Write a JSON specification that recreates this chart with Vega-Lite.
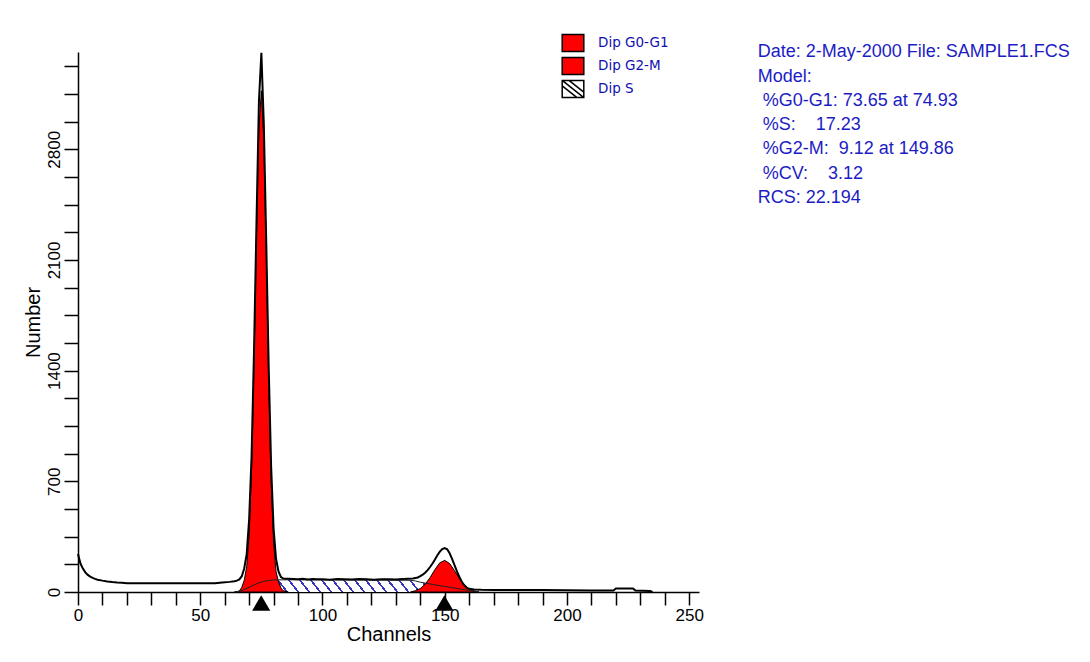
{
  "$schema": "https://vega.github.io/schema/vega-lite/v6.json",
  "width": 621,
  "height": 540,
  "autosize": {"type": "none"},
  "padding": {"left": 78, "top": 52, "right": 391, "bottom": 70},
  "background": "white",
  "config": {
    "view": {"stroke": null},
    "font": "Liberation Sans",
    "axis": {"grid": false, "domainColor": "black", "domainWidth": 1.5, "tickColor": "black", "tickWidth": 1.5, "labelColor": "black", "titleColor": "black", "labelFont": "Liberation Sans", "titleFont": "Liberation Sans", "titleFontWeight": "normal", "zindex": 1, "labelOverlap": false, "labelFlush": false}
  },
  "resolve": {"axis": {"x": "independent", "y": "independent"}},
  "datasets": {
    "hist": [
      {"ch": 0, "n": 240}, {"ch": 1, "n": 180}, {"ch": 2, "n": 148}, {"ch": 3, "n": 124}, {"ch": 4, "n": 108}, {"ch": 5, "n": 97}, {"ch": 6, "n": 89}, {"ch": 7, "n": 83}, {"ch": 8, "n": 78}, {"ch": 10, "n": 72}, {"ch": 12, "n": 67}, {"ch": 14, "n": 63}, {"ch": 16, "n": 60}, {"ch": 18, "n": 58}, {"ch": 20, "n": 56}, {"ch": 22, "n": 55}, {"ch": 30, "n": 55}, {"ch": 40, "n": 55}, {"ch": 50, "n": 55}, {"ch": 56, "n": 56}, {"ch": 59, "n": 60}, {"ch": 62, "n": 64}, {"ch": 64, "n": 68}, {"ch": 65, "n": 72}, {"ch": 66, "n": 80}, {"ch": 67, "n": 100}, {"ch": 68, "n": 150}, {"ch": 69, "n": 240}, {"ch": 70, "n": 460}, {"ch": 71, "n": 860}, {"ch": 72, "n": 1530}, {"ch": 73, "n": 2330}, {"ch": 74, "n": 3100}, {"ch": 75, "n": 3410}, {"ch": 76, "n": 2960}, {"ch": 77, "n": 2210}, {"ch": 78, "n": 1420}, {"ch": 79, "n": 790}, {"ch": 80, "n": 400}, {"ch": 81, "n": 210}, {"ch": 82, "n": 130}, {"ch": 83, "n": 95}, {"ch": 84, "n": 85}, {"ch": 86, "n": 84}, {"ch": 88, "n": 82}, {"ch": 90, "n": 80}, {"ch": 92, "n": 83}, {"ch": 94, "n": 79}, {"ch": 96, "n": 82}, {"ch": 98, "n": 80}, {"ch": 100, "n": 81}, {"ch": 103, "n": 78}, {"ch": 106, "n": 82}, {"ch": 109, "n": 80}, {"ch": 112, "n": 79}, {"ch": 115, "n": 82}, {"ch": 118, "n": 80}, {"ch": 121, "n": 78}, {"ch": 124, "n": 81}, {"ch": 127, "n": 80}, {"ch": 130, "n": 79}, {"ch": 133, "n": 82}, {"ch": 135, "n": 84}, {"ch": 137, "n": 86}, {"ch": 139, "n": 92}, {"ch": 140, "n": 100}, {"ch": 141, "n": 110}, {"ch": 142, "n": 122}, {"ch": 143, "n": 138}, {"ch": 144, "n": 158}, {"ch": 145, "n": 180}, {"ch": 146, "n": 205}, {"ch": 147, "n": 232}, {"ch": 148, "n": 255}, {"ch": 149, "n": 272}, {"ch": 150, "n": 278}, {"ch": 151, "n": 270}, {"ch": 152, "n": 245}, {"ch": 153, "n": 210}, {"ch": 154, "n": 170}, {"ch": 155, "n": 130}, {"ch": 156, "n": 95}, {"ch": 157, "n": 65}, {"ch": 158, "n": 42}, {"ch": 159, "n": 28}, {"ch": 160, "n": 20}, {"ch": 162, "n": 16}, {"ch": 165, "n": 14}, {"ch": 170, "n": 13}, {"ch": 180, "n": 12}, {"ch": 190, "n": 12}, {"ch": 200, "n": 11}, {"ch": 210, "n": 10}, {"ch": 219, "n": 10}, {"ch": 220, "n": 22}, {"ch": 227, "n": 22}, {"ch": 228, "n": 9}, {"ch": 234, "n": 6}, {"ch": 235, "n": 0}
    ],
    "g1": [
      {"ch": 64, "n": 0}, {"ch": 66, "n": 6}, {"ch": 67, "n": 30}, {"ch": 68, "n": 75}, {"ch": 69, "n": 160}, {"ch": 70, "n": 360}, {"ch": 71, "n": 780}, {"ch": 72, "n": 1450}, {"ch": 73, "n": 2257}, {"ch": 74, "n": 2929}, {"ch": 75, "n": 3170}, {"ch": 76, "n": 2853}, {"ch": 77, "n": 2143}, {"ch": 78, "n": 1341}, {"ch": 79, "n": 700}, {"ch": 80, "n": 310}, {"ch": 81, "n": 130}, {"ch": 82, "n": 65}, {"ch": 83, "n": 25}, {"ch": 84, "n": 8}, {"ch": 86, "n": 0}
    ],
    "g2": [
      {"ch": 136, "n": 0}, {"ch": 138, "n": 8}, {"ch": 140, "n": 22}, {"ch": 142, "n": 49}, {"ch": 144, "n": 91}, {"ch": 146, "n": 142}, {"ch": 148, "n": 185}, {"ch": 150, "n": 200}, {"ch": 152, "n": 180}, {"ch": 154, "n": 135}, {"ch": 156, "n": 85}, {"ch": 158, "n": 44}, {"ch": 160, "n": 19}, {"ch": 162, "n": 7}, {"ch": 164, "n": 0}
    ],
    "s": [
      {"ch": 64, "n": 0}, {"ch": 66, "n": 5}, {"ch": 68, "n": 15}, {"ch": 70, "n": 30}, {"ch": 72, "n": 45}, {"ch": 74, "n": 58}, {"ch": 76, "n": 67}, {"ch": 78, "n": 73}, {"ch": 80, "n": 76}, {"ch": 84, "n": 77}, {"ch": 100, "n": 76}, {"ch": 120, "n": 75}, {"ch": 136, "n": 74}, {"ch": 138, "n": 70}, {"ch": 140, "n": 62}, {"ch": 145, "n": 48}, {"ch": 150, "n": 35}, {"ch": 155, "n": 22}, {"ch": 160, "n": 10}, {"ch": 164, "n": 0}
    ],
    "peaks": [{"ch": 74.93}, {"ch": 149.86}],
    "info": [
      {"block": "Date: 2-May-2000 File: SAMPLE1.FCS\nModel:\n\u200b\u00a0%G0-G1: 73.65 at 74.93\n\u200b\u00a0%S:\u00a0\u00a0\u00a0 17.23\n\u200b\u00a0%G2-M:\u00a0 9.12 at 149.86\n\u200b\u00a0%CV:\u00a0\u00a0\u00a0 3.12\nRCS: 22.194"}
    ]
  },
  "layer": [
    {
      "data": {"name": "s"},
      "mark": {"type": "area", "interpolate": "linear", "fill": {"gradient": "linear", "x1": 0, "y1": 0, "x2": 1, "y2": -0.04, "stops": [
        {"offset": 0, "color": "#ffffff"}, {"offset": 0.036, "color": "#ffffff"}, {"offset": 0.036, "color": "#3535c0"}, {"offset": 0.045, "color": "#3535c0"},
        {"offset": 0.045, "color": "#ffffff"}, {"offset": 0.081, "color": "#ffffff"}, {"offset": 0.081, "color": "#3535c0"}, {"offset": 0.09, "color": "#3535c0"},
        {"offset": 0.09, "color": "#ffffff"}, {"offset": 0.126, "color": "#ffffff"}, {"offset": 0.126, "color": "#3535c0"}, {"offset": 0.135, "color": "#3535c0"},
        {"offset": 0.135, "color": "#ffffff"}, {"offset": 0.171, "color": "#ffffff"}, {"offset": 0.171, "color": "#3535c0"}, {"offset": 0.18, "color": "#3535c0"},
        {"offset": 0.18, "color": "#ffffff"}, {"offset": 0.216, "color": "#ffffff"}, {"offset": 0.216, "color": "#3535c0"}, {"offset": 0.225, "color": "#3535c0"},
        {"offset": 0.225, "color": "#ffffff"}, {"offset": 0.261, "color": "#ffffff"}, {"offset": 0.261, "color": "#3535c0"}, {"offset": 0.27, "color": "#3535c0"},
        {"offset": 0.27, "color": "#ffffff"}, {"offset": 0.306, "color": "#ffffff"}, {"offset": 0.306, "color": "#3535c0"}, {"offset": 0.315, "color": "#3535c0"},
        {"offset": 0.315, "color": "#ffffff"}, {"offset": 0.351, "color": "#ffffff"}, {"offset": 0.351, "color": "#3535c0"}, {"offset": 0.36, "color": "#3535c0"},
        {"offset": 0.36, "color": "#ffffff"}, {"offset": 0.396, "color": "#ffffff"}, {"offset": 0.396, "color": "#3535c0"}, {"offset": 0.405, "color": "#3535c0"},
        {"offset": 0.405, "color": "#ffffff"}, {"offset": 0.441, "color": "#ffffff"}, {"offset": 0.441, "color": "#3535c0"}, {"offset": 0.45, "color": "#3535c0"},
        {"offset": 0.45, "color": "#ffffff"}, {"offset": 0.486, "color": "#ffffff"}, {"offset": 0.486, "color": "#3535c0"}, {"offset": 0.495, "color": "#3535c0"},
        {"offset": 0.495, "color": "#ffffff"}, {"offset": 0.531, "color": "#ffffff"}, {"offset": 0.531, "color": "#3535c0"}, {"offset": 0.54, "color": "#3535c0"},
        {"offset": 0.54, "color": "#ffffff"}, {"offset": 0.576, "color": "#ffffff"}, {"offset": 0.576, "color": "#3535c0"}, {"offset": 0.585, "color": "#3535c0"},
        {"offset": 0.585, "color": "#ffffff"}, {"offset": 0.621, "color": "#ffffff"}, {"offset": 0.621, "color": "#3535c0"}, {"offset": 0.63, "color": "#3535c0"},
        {"offset": 0.63, "color": "#ffffff"}, {"offset": 0.666, "color": "#ffffff"}, {"offset": 0.666, "color": "#3535c0"}, {"offset": 0.675, "color": "#3535c0"},
        {"offset": 0.675, "color": "#ffffff"}, {"offset": 0.711, "color": "#ffffff"}, {"offset": 0.711, "color": "#3535c0"}, {"offset": 0.72, "color": "#3535c0"},
        {"offset": 0.72, "color": "#ffffff"}, {"offset": 0.756, "color": "#ffffff"}, {"offset": 0.756, "color": "#3535c0"}, {"offset": 0.765, "color": "#3535c0"},
        {"offset": 0.765, "color": "#ffffff"}, {"offset": 0.801, "color": "#ffffff"}, {"offset": 0.801, "color": "#3535c0"}, {"offset": 0.81, "color": "#3535c0"},
        {"offset": 0.81, "color": "#ffffff"}, {"offset": 0.846, "color": "#ffffff"}, {"offset": 0.846, "color": "#3535c0"}, {"offset": 0.855, "color": "#3535c0"},
        {"offset": 0.855, "color": "#ffffff"}, {"offset": 0.891, "color": "#ffffff"}, {"offset": 0.891, "color": "#3535c0"}, {"offset": 0.9, "color": "#3535c0"},
        {"offset": 0.9, "color": "#ffffff"}, {"offset": 0.936, "color": "#ffffff"}, {"offset": 0.936, "color": "#3535c0"}, {"offset": 0.945, "color": "#3535c0"},
        {"offset": 0.945, "color": "#ffffff"}, {"offset": 0.981, "color": "#ffffff"}, {"offset": 0.981, "color": "#3535c0"}, {"offset": 0.99, "color": "#3535c0"},
        {"offset": 0.99, "color": "#ffffff"}, {"offset": 1, "color": "#ffffff"}
      ]}},
      "encoding": {
        "x": {
          "field": "ch", "type": "quantitative", "title": "Channels",
          "scale": {"domain": [0, 254], "nice": false, "zero": false},
          "axis": {
            "title": "Channels", "titleFontSize": 20, "titlePadding": 1,
            "values": [0, 10, 20, 30, 40, 50, 60, 70, 80, 90, 100, 110, 120, 130, 140, 150, 160, 170, 180, 190, 200, 210, 220, 230, 240, 250],
            "format": "d",
            "labelExpr": "datum.value % 50 === 0 ? datum.label : ''",
            "labelFontSize": 17, "labelPadding": 2, "labelFlush": false, "labelOverlap": false,
            "tickSize": 13,
            "encode": {"ticks": {"update": {"y2": {"signal": "datum.value % 50 === 0 ? 13 : 7"}}}}
          }
        },
        "y": {
          "field": "n", "type": "quantitative", "title": "Number",
          "scale": {"domain": [0, 3415], "nice": false, "zero": true},
          "axis": {
            "title": "Number", "titleFontSize": 20, "titlePadding": 2,
            "values": [0, 175, 350, 525, 700, 875, 1050, 1225, 1400, 1575, 1750, 1925, 2100, 2275, 2450, 2625, 2800, 2975, 3150, 3325],
            "format": "d",
            "labelExpr": "datum.value % 700 === 0 ? datum.label : ''",
            "labelAngle": 270, "labelAlign": "center", "labelBaseline": "bottom",
            "labelFontSize": 17, "labelPadding": 1, "labelFlush": false, "labelOverlap": false,
            "tickSize": 14,
            "encode": {"ticks": {"update": {"x2": {"signal": "datum.value % 700 === 0 ? -14 : -7"}}}}
          }
        }
      }
    },
    {
      "data": {"name": "g1"},
      "mark": {"type": "area", "interpolate": "linear", "stroke": "black", "strokeWidth": 1, "opacity": 1},
      "encoding": {
        "x": {"field": "ch", "type": "quantitative", "axis": null},
        "y": {"field": "n", "type": "quantitative", "axis": null},
        "color": {
          "datum": "Dip G0-G1", "type": "nominal",
          "scale": {"domain": ["Dip G0-G1", "Dip G2-M", "Dip S"], "range": ["#ff0000", "#ff0000", "#ffffff"]},
          "legend": {
            "title": null, "orient": "none", "legendX": 485, "legendY": -19, "direction": "vertical", "padding": 0,
            "symbolType": "M-1.2,-0.95H1.2V0.95H-1.2Z", "symbolSize": 324, "symbolStrokeColor": "black", "symbolStrokeWidth": 1.5, "symbolOpacity": 1,
            "labelFont": "DejaVu Sans", "labelFontSize": 13.5, "labelColor": "#1010b0", "labelOffset": 15, "rowPadding": -1,
            "encode": {"symbols": {"update": {
              "fill": [{"test": "datum.value === 'Dip S'", "value": "#ffffff"}, {"value": "#ff0000"}],
              "shape": [{"test": "datum.value === 'Dip S'", "value": "M-1.2,-0.95H1.2V0.95H-1.2Z M-0.45,-0.95L1.2,0.35 M-1.2,-0.95L1.2,0.95 M-1.2,-0.35L0.45,0.95"}, {"value": "M-1.2,-0.95H1.2V0.95H-1.2Z"}],
              "size": {"value": 324},
              "stroke": {"value": "#000000"},
              "strokeWidth": {"value": 1.5},
              "opacity": {"value": 1}
            }}}
          }
        }
      }
    },
    {
      "data": {"name": "g2"},
      "mark": {"type": "area", "interpolate": "linear", "stroke": "black", "strokeWidth": 1, "opacity": 1},
      "encoding": {
        "x": {"field": "ch", "type": "quantitative", "axis": null},
        "y": {"field": "n", "type": "quantitative", "axis": null},
        "color": {"datum": "Dip G2-M", "type": "nominal"}
      }
    },
    {
      "data": {"name": "s"},
      "mark": {"type": "line", "interpolate": "linear", "color": "#202020", "strokeWidth": 1},
      "encoding": {
        "x": {"field": "ch", "type": "quantitative", "axis": null},
        "y": {"field": "n", "type": "quantitative", "axis": null}
      }
    },
    {
      "data": {"name": "hist"},
      "mark": {"type": "line", "interpolate": "linear", "color": "black", "strokeWidth": 2},
      "encoding": {
        "x": {"field": "ch", "type": "quantitative", "axis": null},
        "y": {"field": "n", "type": "quantitative", "axis": null}
      }
    },
    {
      "data": {"name": "peaks"},
      "mark": {"type": "point", "shape": "triangle-up", "filled": true, "color": "black", "opacity": 1, "size": 330, "yOffset": 11},
      "encoding": {
        "x": {"field": "ch", "type": "quantitative", "axis": null},
        "y": {"datum": 0, "type": "quantitative", "axis": null}
      }
    },
    {
      "data": {"name": "info"},
      "mark": {"type": "text", "align": "left", "baseline": "top", "font": "Liberation Sans", "fontSize": 18, "color": "#1c1cc4", "lineHeight": 24.3, "lineBreak": "\n"},
      "encoding": {
        "x": {"datum": 278, "type": "quantitative", "axis": null},
        "y": {"datum": 3470, "type": "quantitative", "axis": null},
        "text": {"field": "block", "type": "nominal"}
      }
    }
  ]
}
